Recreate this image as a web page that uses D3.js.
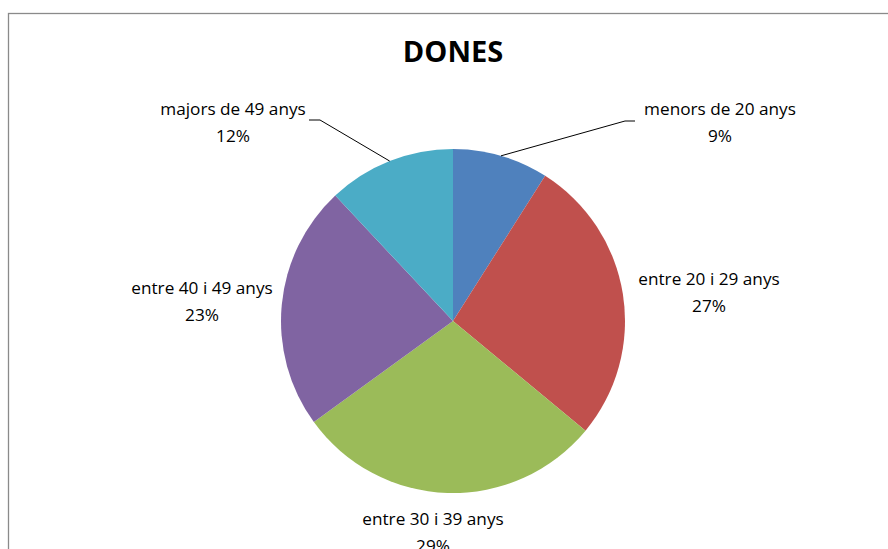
<!DOCTYPE html>
<html><head><meta charset="utf-8">
<script src="https://cdn.jsdelivr.net/npm/d3@7"></script>
<style>body{margin:0;background:#fff}svg{display:block}</style>
</head><body>
<svg id="c" width="888" height="549"></svg>
<script>
const categories = ["menors de 20 anys","entre 20 i 29 anys","entre 30 i 39 anys","entre 40 i 49 anys","majors de 49 anys"];
const values = [9, 27, 29, 23, 12];
const pctLabels = ["9%","27%","29%","23%","12%"];
const colors = ["#4F81BD","#C0504D","#9BBB59","#8064A2","#4BACC6"];
const title = "DONES";

// layout
const cx = 453, cy = 321, R = 172;
const labelPos = [[720,115],[709,285],[433,525],[202,294],[233,115]];
const leaders = {0:[[625,121],[635,121]], 4:[[320,120],[309,120]]};
const FONT = "'Open Sans', Lato, sans-serif";

const svg = d3.select("#c");
svg.append("rect").attr("x",8.5).attr("y",13.5).attr("width",1000).attr("height",1000)
  .attr("fill","#fff").attr("stroke","#8a8a8a").attr("stroke-width",1.3);

svg.append("text").attr("x",cx).attr("y",62).attr("text-anchor","middle")
  .attr("font-family",FONT).attr("font-weight","bold").attr("font-size",29).attr("fill","#000").text(title);

const pie = d3.pie().sort(null).value(d=>d);
const arcs = pie(values);
const arc = d3.arc().innerRadius(0).outerRadius(R);
const g = svg.append("g").attr("transform",`translate(${cx},${cy})`);
g.selectAll("path").data(arcs).join("path").attr("d",arc)
  .attr("fill",(d,i)=>colors[i]);

const edge = d3.arc().innerRadius(R).outerRadius(R);
arcs.forEach((d,i)=>{
  if(leaders[i]){
    const p = edge.centroid(d);
    const pts = [[p[0]+cx,p[1]+cy], ...leaders[i]];
    svg.append("path").attr("d",d3.line()(pts)).attr("fill","none").attr("stroke","#000").attr("stroke-width",1);
  }
  const [lx,ly] = labelPos[i];
  const t = svg.append("text").attr("text-anchor","middle").attr("font-family",FONT)
    .attr("font-size",17.2).attr("fill","#000");
  t.append("tspan").attr("x",lx).attr("y",ly).text(categories[i]);
  t.append("tspan").attr("x",lx).attr("y",ly+27).text(pctLabels[i]);
});
</script>
</body></html>
